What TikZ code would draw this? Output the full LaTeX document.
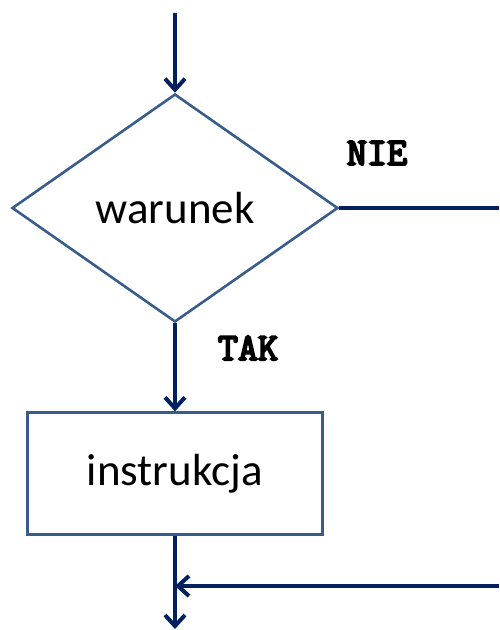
\documentclass[tikz,border=0pt]{standalone}
\usepackage{fontspec}
\setmainfont{Carlito}
\newfontfamily\answerfont{Latin Modern Mono}[FakeBold=5]
\usetikzlibrary{positioning,arrows.meta,shapes.geometric}
\definecolor{navy}{RGB}{0,32,96}
\definecolor{steel}{RGB}{56,93,138}
\tikzset{
  cond/.style={diamond,draw=steel,line width=2.6pt,minimum width=326pt,minimum height=228pt,inner sep=0pt,font=\fontsize{45}{54}\selectfont},
  instr/.style={rectangle,draw=steel,line width=2.6pt,minimum width=295pt,minimum height=122pt,font=\fontsize{45}{54}\selectfont},
  answer/.style={font=\answerfont\fontsize{39}{46}\selectfont,inner sep=0pt},
  flow/.style={draw=navy,line width=4pt,-{Straight Barb[length=11pt,width=20pt]}},
  wire/.style={draw=navy,line width=4pt},
}

\begin{document}
\begin{tikzpicture}[x=1pt,y=-1pt]
  \useasboundingbox (0,0) rectangle (499,630);
  \node[cond] (war) at (175,208) {warunek};
  \node[instr,below=88pt of war] (ins) {instrukcja};
  \node[answer] (nie) at (377,153) {NIE};
  \node[answer] (tak) at (248,348) {TAK};
  % loose ends of the connectors
  \coordinate (in) at (175,13);
  \coordinate (out) at (499,208);
  \coordinate (back) at (499,586);
  \coordinate (join) at (ins.south |- back);
  \coordinate (exit) at (175,629);
  \draw[flow] (in) -- (war);
  \draw[wire] (war) -- (out);
  \draw[flow] (war) -- (ins);
  \draw[flow] (ins) -- (exit);
  \draw[flow] (back) -- (join);
\end{tikzpicture}
\end{document}
